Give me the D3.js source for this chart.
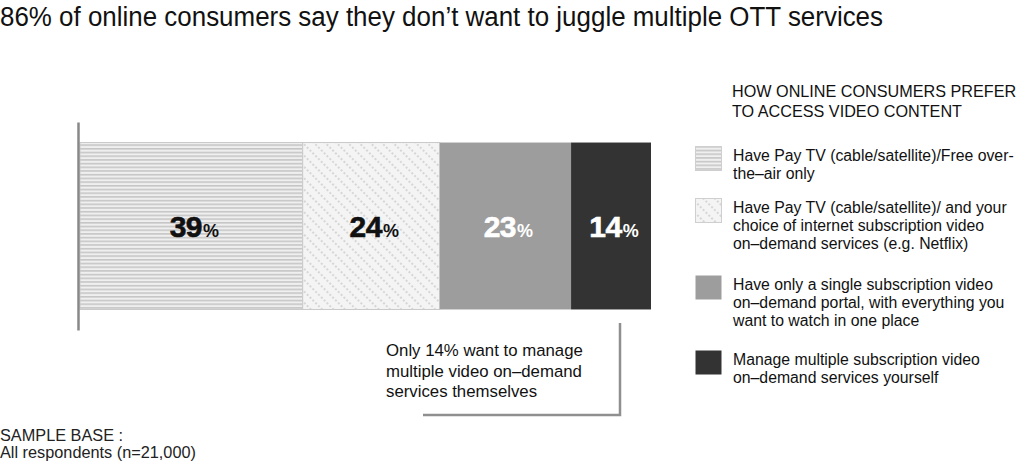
<!DOCTYPE html>
<html>
<head>
<meta charset="utf-8">
<script src="https://cdn.jsdelivr.net/npm/d3@7/dist/d3.min.js"></script>
<style>
  html, body { margin: 0; padding: 0; background: #fff; }
  svg { display: block; }
  text { font-family: "Liberation Sans", Arial, sans-serif; }
</style>
</head>
<body>
<svg id="chart" width="1023" height="462"></svg>
<script>
// ---- data ----
const title = "86% of online consumers say they don\u2019t want to juggle multiple OTT services";
const categories = [
  "Have Pay TV (cable/satellite)/Free over-the-air only",
  "Have Pay TV (cable/satellite)/ and your choice of internet subscription video on-demand services (e.g. Netflix)",
  "Have only a single subscription video on-demand portal, with everything you want to watch in one place",
  "Manage multiple subscription video on-demand services yourself"
];
const legendLines = [
  ["Have Pay TV (cable/satellite)/Free over-", "the\u2013air only"],
  ["Have Pay TV (cable/satellite)/ and your", "choice of internet subscription video", "on\u2013demand services (e.g. Netflix)"],
  ["Have only a single subscription video", "on\u2013demand portal, with everything you", "want to watch in one place"],
  ["Manage multiple subscription video", "on\u2013demand services yourself"]
];
const values = [39, 24, 23, 14];
const rowLabel = ["All respondents"];
const legendTitle = ["HOW ONLINE CONSUMERS PREFER", "TO ACCESS VIDEO CONTENT"];
const calloutLines = ["Only 14% want to manage", "multiple video on\u2013demand", "services themselves"];
const footnote = ["SAMPLE BASE :", "All respondents (n=21,000)"];

// ---- styles ----
const fills = ["url(#hlines)", "url(#dots)", "#9d9d9d", "#333333"];
const labelColors = ["#111", "#111", "#fff", "#fff"];

const svg = d3.select("#chart");
const defs = svg.append("defs");

// horizontal line pattern
const p1 = defs.append("pattern").attr("id", "hlines").attr("patternUnits", "userSpaceOnUse")
  .attr("width", 8).attr("height", 3.7);
p1.append("rect").attr("width", 8).attr("height", 3.7).attr("fill", "#efefef");
p1.append("rect").attr("y", 0).attr("width", 8).attr("height", 1.6).attr("fill", "#c6c6c6");

// diagonal dotted pattern
const p2 = defs.append("pattern").attr("id", "dots").attr("patternUnits", "userSpaceOnUse")
  .attr("width", 8).attr("height", 4).attr("patternTransform", "rotate(-45)");
p2.append("rect").attr("width", 8).attr("height", 4).attr("fill", "#f4f4f4");
p2.append("circle").attr("cx", 1).attr("cy", 2).attr("r", 0.8).attr("fill", "#b0b0b0");

// title
svg.append("text").attr("x", 0).attr("y", 26)
  .attr("font-size", 27).attr("fill", "#111")
  .attr("textLength", 883).attr("lengthAdjust", "spacingAndGlyphs")
  .text(title);

// scales
const x = d3.scaleLinear().domain([0, 100]).range([80, 651]);
const y = d3.scaleBand().domain(rowLabel).range([122, 330]).paddingInner(0).paddingOuter(0.123);

const stack = [];
let acc = 0;
values.forEach((v, i) => { stack.push({ i, v, x0: acc, x1: acc + v }); acc += v; });

const g = svg.append("g");
g.selectAll("rect.seg").data(stack).enter().append("rect")
  .attr("class", "seg")
  .attr("x", d => x(d.x0))
  .attr("y", y(rowLabel[0]))
  .attr("width", d => x(d.x1) - x(d.x0))
  .attr("height", y.bandwidth())
  .attr("fill", (d) => fills[d.i])
  .attr("stroke", (d) => d.i < 2 ? "#c9c9c9" : "none")
  .attr("stroke-width", 1);

// axis line
const axis = d3.axisLeft(y).tickSize(0).tickFormat("");
const ag = svg.append("g").attr("transform", "translate(78,0)").call(axis);
ag.select(".domain").attr("stroke", "#888").attr("stroke-width", 2.5);

// segment labels
const lab = g.selectAll("text.lab").data(stack).enter().append("text")
  .attr("class", "lab")
  .attr("x", d => (x(d.x0) + x(d.x1)) / 2 + 3)
  .attr("y", y(rowLabel[0]) + y.bandwidth() / 2 + 11)
  .attr("text-anchor", "middle")
  .attr("fill", d => labelColors[d.i])
  .attr("font-family", "'DejaVu Sans', sans-serif")
  .attr("font-weight", "bold");
lab.append("tspan").attr("font-size", 30).attr("letter-spacing", -0.5)
  .attr("stroke", d => labelColors[d.i]).attr("stroke-width", 0.6).text(d => d.v);
lab.append("tspan").attr("font-size", 18).attr("dx", 1).text("%");

// legend title
svg.append("g").selectAll("text").data(legendTitle).enter().append("text")
  .attr("x", 732).attr("y", (d, i) => 97 + i * 20)
  .attr("font-size", 16.2).attr("fill", "#111").text(d => d);

// legend items
const legendY = [146, 198, 275, 350];
const lg = svg.append("g").selectAll("g").data(categories).enter().append("g")
  .attr("transform", (d, i) => `translate(0,${legendY[i]})`);
lg.append("rect").attr("x", 695.5).attr("y", 0.5).attr("width", 26).attr("height", 24)
  .attr("fill", (d, i) => fills[i])
  .attr("stroke", (d, i) => i < 2 ? "#cfcfcf" : "none");
lg.each(function (d, i) {
  d3.select(this).selectAll("text").data(legendLines[i]).enter().append("text")
    .attr("x", 733).attr("y", (t, j) => 15 + j * 18)
    .attr("font-size", 15.8).attr("fill", "#111").text(t => t);
});

// callout
svg.append("path")
  .attr("d", "M620,323 L620,415 L423,415")
  .attr("fill", "none").attr("stroke", "#8f8f8f").attr("stroke-width", 2.5);
svg.append("g").selectAll("text").data(calloutLines).enter().append("text")
  .attr("x", 386).attr("y", (d, i) => 356 + i * 20.5)
  .attr("font-size", 16.8).attr("fill", "#111").text(d => d);

// footnote
svg.append("g").selectAll("text").data(footnote).enter().append("text")
  .attr("x", 0).attr("y", (d, i) => 441 + i * 17)
  .attr("font-size", 16.3).attr("fill", "#222").text(d => d);
</script>
</body>
</html>
